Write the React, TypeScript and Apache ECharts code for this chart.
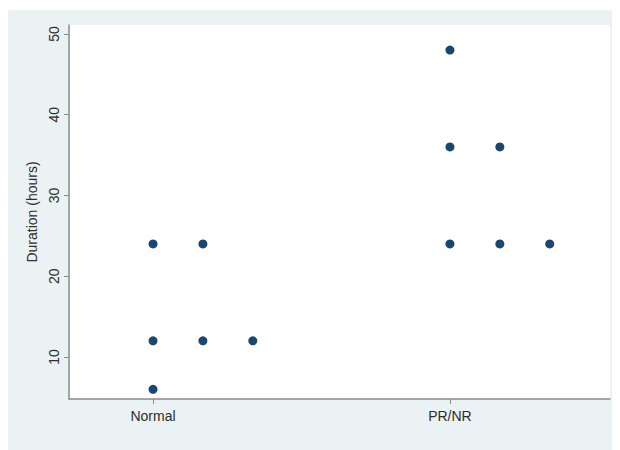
import React, { useEffect, useRef } from "react";
import * as echarts from "echarts";

const groups = ["Normal", "PR/NR"];
const normalValues = [6, 12, 12, 12, 24, 24];
const prnrValues = [24, 24, 24, 36, 36, 48];
const yTicks = [10, 20, 30, 40, 50];
const yTitle = "Duration (hours)";

const dotStep = 0.168;

function buildPoints(values: number[], groupIndex: number): number[][] {
  const counts: Record<number, number> = {};
  const pts: number[][] = [];
  values.forEach((v) => {
    const k = counts[v] || 0;
    counts[v] = k + 1;
    pts.push([groupIndex + 1 + k * dotStep, v]);
  });
  return pts;
}

export default function App() {
  const ref = useRef<HTMLDivElement>(null);
  useEffect(() => {
    if (!ref.current) return;
    const chart = echarts.init(ref.current, null, { renderer: "svg" });
    const data = [...buildPoints(normalValues, 0), ...buildPoints(prnrValues, 1)];
    const font = "'Liberation Sans', Arial, sans-serif";
    chart.setOption({
      animation: false,
      backgroundColor: "#eaf2f3",
      grid: {
        left: 61,
        top: 15,
        right: 10,
        bottom: 51,
        show: true,
        backgroundColor: "#ffffff",
        borderWidth: 0,
      },
      xAxis: {
        type: "value",
        min: 0.717,
        max: 2.539,
        splitLine: { show: false },
        axisLine: { show: true, lineStyle: { color: "#8a8a8a", width: 1.5 } },
        axisTick: {
          show: true,
          length: 5,
          customValues: [1, 2],
          lineStyle: { color: "#8a8a8a", width: 1 },
        },
        axisLabel: {
          customValues: [1, 2],
          formatter: (v: number) => groups[Math.round(v) - 1] ?? "",
          color: "#2e2e2e",
          fontFamily: font,
          fontSize: 14,
          margin: 10,
        },
      },
      yAxis: {
        type: "value",
        min: 4.8,
        max: 51.1,
        name: yTitle,
        nameLocation: "middle",
        nameGap: 30,
        nameRotate: 90,
        nameTextStyle: { color: "#2e2e2e", fontFamily: font, fontSize: 14 },
        splitLine: { show: false },
        axisLine: { show: true, lineStyle: { color: "#8a8a8a", width: 1.5 } },
        axisTick: {
          show: true,
          length: 5,
          customValues: yTicks,
          lineStyle: { color: "#8a8a8a", width: 1 },
        },
        axisLabel: {
          customValues: yTicks,
          rotate: 90,
          color: "#2e2e2e",
          fontFamily: font,
          fontSize: 14,
          margin: 8,
        },
      },
      series: [
        {
          type: "scatter",
          data,
          symbol: "circle",
          symbolSize: 9,
          itemStyle: { color: "#1a476f", opacity: 1 },
        },
      ],
    });
    return () => chart.dispose();
  }, []);
  return (
    <div
      ref={ref}
      style={{ width: 612, height: 440, marginTop: 2 }}
    />
  );
}
